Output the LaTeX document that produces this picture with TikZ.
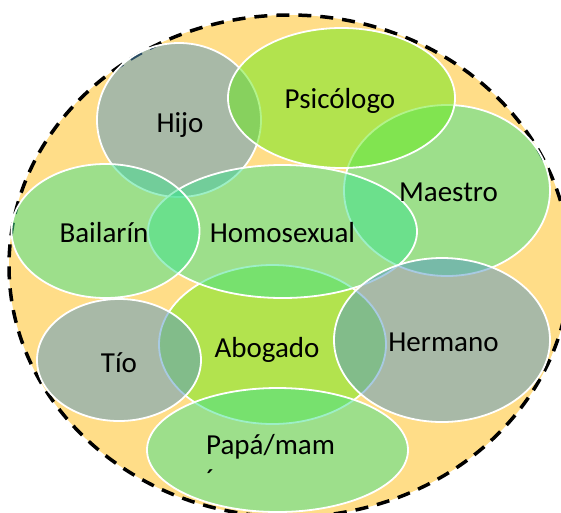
\documentclass[tikz,border=0pt]{standalone}
\usepackage{fontspec}
\setmainfont{Carlito}
\usepackage{tikz}
\usetikzlibrary{shapes.geometric}

\definecolor{vennbg}{RGB}{255,221,136}
\definecolor{venngray}{RGB}{83,151,198}
\definecolor{venngreen}{RGB}{61,225,142}
\definecolor{vennlime}{RGB}{103,233,22}

\begin{document}
\begin{tikzpicture}[x=1pt, y=-1pt,
		venn/.style={ellipse, draw=white, line width=1.8pt, fill opacity=0.5, draw opacity=1, inner sep=0pt, outer sep=0pt},
		lbl/.style={inner sep=0pt, font=\fontsize{29}{35}\selectfont}]
			\useasboundingbox (0,0) rectangle (561,512);
			\clip (0,0) rectangle (561,512);
			% Outer set
			\node[ellipse, draw=black, fill=vennbg, line width=3.5pt, dash pattern=on 13pt off 9pt,
				minimum width=561pt, minimum height=502pt, inner sep=0pt, outer sep=0pt] (outer) at (289.5,266) {};
			% Sets
			\foreach \name/\x/\y/\w/\h/\col in {
				abogado/272.5/344.5/227/159/vennlime,
				maestro/447/190.5/206/171/venngreen,
				hijo/179/120/164/154/venngray,
				psicologo/341.5/98/227/140/vennlime,
				homosexual/282.5/231.5/269/133/venngreen,
				bailarin/105.5/231/188/134/venngreen,
				tio/119/360/164/122/venngray,
				hermano/442/340/216/164/venngray,
				papa/277.5/450/261/124/venngreen} {
				\node[venn, fill=\col, minimum width=\w pt, minimum height=\h pt] (\name) at (\x,\y) {};
			}
			% Labels
			\node[lbl, anchor=base] (lhijo) at (180,132) {Hijo};
			\node[lbl, anchor=base] (lpsicologo) at (340,108) {Psicólogo};
			\node[lbl, anchor=base] (lmaestro) at (448.5,201) {Maestro};
			\node[lbl, anchor=base] (lbailarin) at (104,242) {Bailarín};
			\node[lbl, anchor=base] (lhomosexual) at (282.5,242) {Homosexual};
			\node[lbl, anchor=base] (ltio) at (119,372) {Tío};
			\node[lbl, anchor=base] (labogado) at (267,357) {Abogado};
			\node[lbl, anchor=base] (lhermano) at (443.5,351) {Hermano};
			\node[lbl, align=left, anchor=base west] (lpapa) at (206,489) {Papá/mam\\´};
		\end{tikzpicture}
\end{document}
